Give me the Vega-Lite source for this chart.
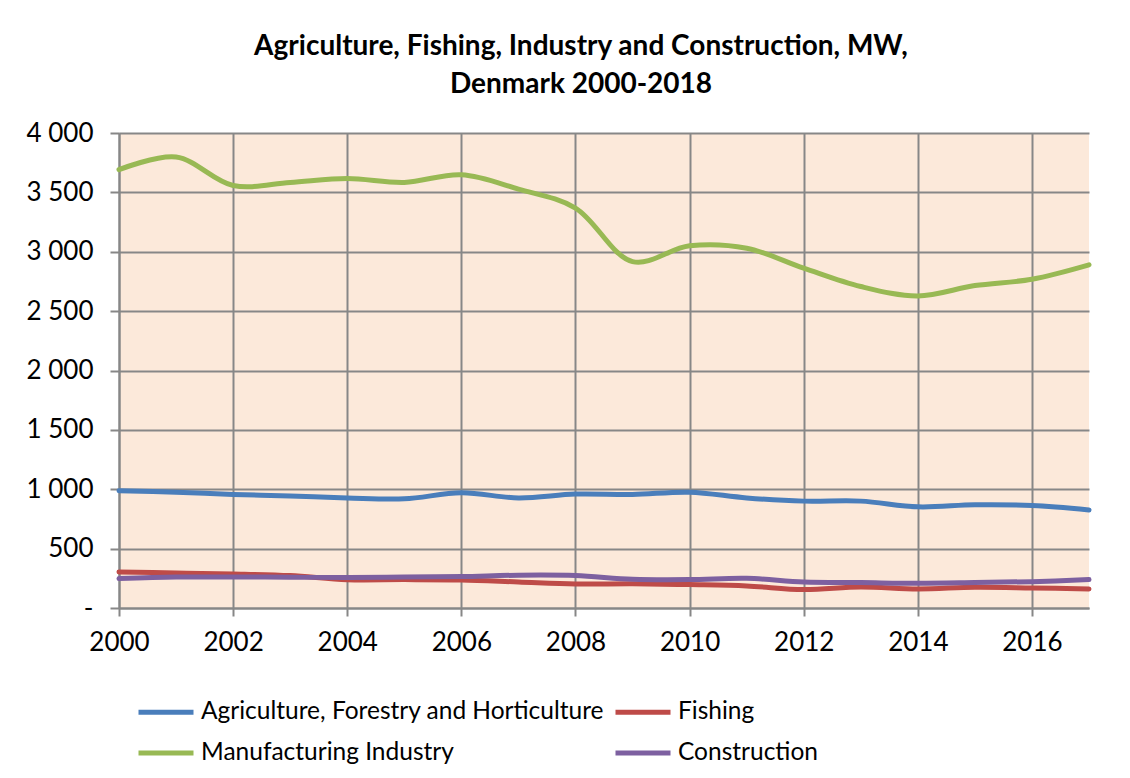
{
  "$schema": "https://vega.github.io/schema/vega-lite/v6.json",
  "width": 970,
  "height": 475,
  "autosize": {"type": "none"},
  "padding": {"left": 119, "top": 133, "right": 41, "bottom": 170},
  "background": "white",
  "title": {
    "text": ["Agriculture, Fishing, Industry and Construction, MW,", "Denmark 2000-2018"],
    "anchor": "middle",
    "dx": -23,
    "offset": 21,
    "font": "Lato",
    "fontSize": 28,
    "fontWeight": "bold",
    "color": "#000000",
    "lineHeight": 38
  },
  "config": {
    "view": {"fill": "#FCE9DA", "stroke": null},
    "font": "Lato"
  },
  "data": {
    "values": [
      {"year": 2000, "series": "Agriculture, Forestry and Horticulture", "value": 987},
      {"year": 2001, "series": "Agriculture, Forestry and Horticulture", "value": 975},
      {"year": 2002, "series": "Agriculture, Forestry and Horticulture", "value": 956},
      {"year": 2003, "series": "Agriculture, Forestry and Horticulture", "value": 944},
      {"year": 2004, "series": "Agriculture, Forestry and Horticulture", "value": 927},
      {"year": 2005, "series": "Agriculture, Forestry and Horticulture", "value": 919},
      {"year": 2006, "series": "Agriculture, Forestry and Horticulture", "value": 970},
      {"year": 2007, "series": "Agriculture, Forestry and Horticulture", "value": 927},
      {"year": 2008, "series": "Agriculture, Forestry and Horticulture", "value": 959},
      {"year": 2009, "series": "Agriculture, Forestry and Horticulture", "value": 956},
      {"year": 2010, "series": "Agriculture, Forestry and Horticulture", "value": 975},
      {"year": 2011, "series": "Agriculture, Forestry and Horticulture", "value": 927},
      {"year": 2012, "series": "Agriculture, Forestry and Horticulture", "value": 900},
      {"year": 2013, "series": "Agriculture, Forestry and Horticulture", "value": 900},
      {"year": 2014, "series": "Agriculture, Forestry and Horticulture", "value": 852},
      {"year": 2015, "series": "Agriculture, Forestry and Horticulture", "value": 869},
      {"year": 2016, "series": "Agriculture, Forestry and Horticulture", "value": 863},
      {"year": 2017, "series": "Agriculture, Forestry and Horticulture", "value": 826},
      {"year": 2000, "series": "Fishing", "value": 304},
      {"year": 2001, "series": "Fishing", "value": 295},
      {"year": 2002, "series": "Fishing", "value": 287},
      {"year": 2003, "series": "Fishing", "value": 273},
      {"year": 2004, "series": "Fishing", "value": 238},
      {"year": 2005, "series": "Fishing", "value": 239},
      {"year": 2006, "series": "Fishing", "value": 236},
      {"year": 2007, "series": "Fishing", "value": 219},
      {"year": 2008, "series": "Fishing", "value": 202},
      {"year": 2009, "series": "Fishing", "value": 204},
      {"year": 2010, "series": "Fishing", "value": 197},
      {"year": 2011, "series": "Fishing", "value": 186},
      {"year": 2012, "series": "Fishing", "value": 155},
      {"year": 2013, "series": "Fishing", "value": 177},
      {"year": 2014, "series": "Fishing", "value": 160},
      {"year": 2015, "series": "Fishing", "value": 175},
      {"year": 2016, "series": "Fishing", "value": 169},
      {"year": 2017, "series": "Fishing", "value": 160},
      {"year": 2000, "series": "Manufacturing Industry", "value": 3691},
      {"year": 2001, "series": "Manufacturing Industry", "value": 3798},
      {"year": 2002, "series": "Manufacturing Industry", "value": 3558},
      {"year": 2003, "series": "Manufacturing Industry", "value": 3584},
      {"year": 2004, "series": "Manufacturing Industry", "value": 3617},
      {"year": 2005, "series": "Manufacturing Industry", "value": 3584},
      {"year": 2006, "series": "Manufacturing Industry", "value": 3648},
      {"year": 2007, "series": "Manufacturing Industry", "value": 3528},
      {"year": 2008, "series": "Manufacturing Industry", "value": 3368},
      {"year": 2009, "series": "Manufacturing Industry", "value": 2917},
      {"year": 2010, "series": "Manufacturing Industry", "value": 3050},
      {"year": 2011, "series": "Manufacturing Industry", "value": 3030},
      {"year": 2012, "series": "Manufacturing Industry", "value": 2862},
      {"year": 2013, "series": "Manufacturing Industry", "value": 2707},
      {"year": 2014, "series": "Manufacturing Industry", "value": 2628},
      {"year": 2015, "series": "Manufacturing Industry", "value": 2715},
      {"year": 2016, "series": "Manufacturing Industry", "value": 2769},
      {"year": 2017, "series": "Manufacturing Industry", "value": 2890},
      {"year": 2000, "series": "Construction", "value": 248},
      {"year": 2001, "series": "Construction", "value": 261},
      {"year": 2002, "series": "Construction", "value": 261},
      {"year": 2003, "series": "Construction", "value": 259},
      {"year": 2004, "series": "Construction", "value": 256},
      {"year": 2005, "series": "Construction", "value": 261},
      {"year": 2006, "series": "Construction", "value": 265},
      {"year": 2007, "series": "Construction", "value": 276},
      {"year": 2008, "series": "Construction", "value": 273},
      {"year": 2009, "series": "Construction", "value": 242},
      {"year": 2010, "series": "Construction", "value": 239},
      {"year": 2011, "series": "Construction", "value": 250},
      {"year": 2012, "series": "Construction", "value": 219},
      {"year": 2013, "series": "Construction", "value": 214},
      {"year": 2014, "series": "Construction", "value": 208},
      {"year": 2015, "series": "Construction", "value": 214},
      {"year": 2016, "series": "Construction", "value": 222},
      {"year": 2017, "series": "Construction", "value": 239}
    ]
  },
  "mark": {"type": "line", "strokeWidth": 5, "interpolate": "catmull-rom", "strokeCap": "round", "strokeJoin": "round"},
  "encoding": {
    "x": {
      "field": "year",
      "type": "quantitative",
      "scale": {"domain": [2000, 2017], "nice": false, "zero": false},
      "axis": {
        "title": null,
        "values": [2000, 2002, 2004, 2006, 2008, 2010, 2012, 2014, 2016],
        "format": "d",
        "grid": true,
        "gridColor": "#878787",
        "gridWidth": 2,
        "gridOpacity": 1,
        "domainColor": "#878787",
        "domainWidth": 2,
        "tickColor": "#878787",
        "tickWidth": 2,
        "tickSize": 8,
        "labelFont": "Lato",
        "labelFontSize": 26,
        "labelColor": "#000000",
        "labelPadding": 13,
        "labelFlush": false
      }
    },
    "y": {
      "field": "value",
      "type": "quantitative",
      "scale": {"domain": [0, 4000], "nice": false},
      "axis": {
        "title": null,
        "values": [0, 500, 1000, 1500, 2000, 2500, 3000, 3500, 4000],
        "labelExpr": "datum.value == 0 ? '-' : replace(format(datum.value, ','), ',', ' ')",
        "grid": true,
        "gridColor": "#878787",
        "gridWidth": 2,
        "gridOpacity": 1,
        "domainColor": "#878787",
        "domainWidth": 2,
        "tickColor": "#878787",
        "tickWidth": 2,
        "tickSize": 9,
        "labelFont": "Lato",
        "labelFontSize": 26,
        "labelColor": "#000000",
        "labelPadding": 17
      }
    },
    "color": {
      "field": "series",
      "type": "nominal",
      "scale": {
        "domain": ["Agriculture, Forestry and Horticulture", "Manufacturing Industry", "Fishing", "Construction"],
        "range": ["#4A7EBB", "#98B954", "#BE4B48", "#7D60A0"]
      },
      "legend": {
        "title": null,
        "orient": "none",
        "legendX": 17,
        "legendY": 569,
        "columns": 2,
        "columnPadding": 8,
        "rowPadding": 16,
        "clipHeight": 20,
        "symbolType": "M-1,0H1",
        "symbolSize": 3025,
        "symbolStrokeWidth": 5,
        "labelFont": "Lato",
        "labelFontSize": 24.5,
        "labelColor": "#000000",
        "labelOffset": 5,
        "labelLimit": 600,
        "padding": 0
      }
    }
  }
}
